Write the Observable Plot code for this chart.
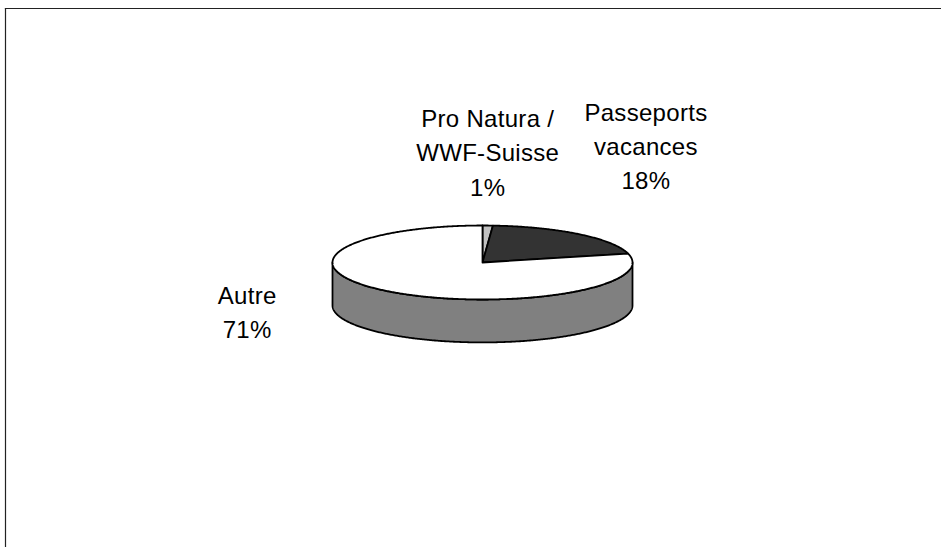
<!DOCTYPE html>
<html>
<head>
<meta charset="utf-8">
<script src="https://cdn.jsdelivr.net/npm/d3@7"></script>
<script src="https://cdn.jsdelivr.net/npm/@observablehq/plot@0.6"></script>
<style>
  html, body { margin: 0; padding: 0; background: #fff; }
  #chart svg text { letter-spacing: 0.3px; }
</style>
</head>
<body>
<div id="chart"></div>
<script>
// ---- data ----
const categories = ["Pro Natura / WWF-Suisse", "Passeports vacances", "Autre"];
const labelLines = ["Pro Natura /\nWWF-Suisse", "Passeports\nvacances", "Autre"];
const values = [1, 18, 71];
const percentLabels = ["1%", "18%", "71%"];

// ---- styles / layout (not data) ----
const sliceColors = ["#c0c0c0", "#333333", "#ffffff"];
const sideColor = "#808080";
const depth = 1.16;                 // pie thickness in y-units of the top ellipse
const labelOffsets = [              // pixel offsets from each slice's rim midpoint
  {dx: 0, dy: -75},
  {dx: 67, dy: -90},
  {dx: -143, dy: 18}
];

// ---- geometry from values ----
const total = d3.sum(values);
const step = Math.PI / 360;
function rim(theta, dz = 0) { return {x: Math.sin(theta), y: -Math.cos(theta) + dz}; }
function arc(a0, a1, dz = 0) {
  const n = Math.max(2, Math.ceil(Math.abs(a1 - a0) / step));
  return d3.range(n + 1).map(i => rim(a0 + (a1 - a0) * i / n, dz));
}
let acc = 0;
const slices = values.map((v, i) => {
  const a0 = acc / total * 2 * Math.PI;
  acc += v;
  const a1 = acc / total * 2 * Math.PI;
  return {i, a0, a1, mid: (a0 + a1) / 2};
});

const marks = [];
// side walls (visible front half: PI/2 .. 3PI/2)
slices.forEach(s => {
  const b0 = Math.max(s.a0, Math.PI / 2), b1 = Math.min(s.a1, 3 * Math.PI / 2);
  if (b1 > b0) {
    const pts = [...arc(b0, b1, 0), ...arc(b1, b0, depth)];
    pts.push(pts[0]);
    marks.push(Plot.line(pts, {x: "x", y: "y", fill: sideColor, stroke: "#000", strokeWidth: 1.8, strokeLinejoin: "round", curve: "linear"}));
  }
});
// top faces
slices.forEach(s => {
  const pts = [{x: 0, y: 0}, ...arc(s.a0, s.a1, 0), {x: 0, y: 0}];
  marks.push(Plot.line(pts, {x: "x", y: "y", fill: sliceColors[s.i], stroke: "#000", strokeWidth: 1.8, strokeLinejoin: "round", curve: "linear"}));
});
// labels
slices.forEach(s => {
  const p = rim(s.mid);
  marks.push(Plot.text([{x: p.x, y: p.y, t: labelLines[s.i] + "\n" + percentLabels[s.i]}], {
    x: "x", y: "y", text: "t",
    dx: labelOffsets[s.i].dx, dy: labelOffsets[s.i].dy,
    textAnchor: "middle", lineAnchor: "middle", lineHeight: 1.42,
    fontSize: 24, fontFamily: "Liberation Sans, Arial, sans-serif", fill: "#000"
  }));
});
// outer frame (left and top edges visible)
marks.push(Plot.frame({anchor: "left", stroke: "#222", strokeWidth: 1.2}));
marks.push(Plot.frame({anchor: "top", stroke: "#222", strokeWidth: 1.2}));

const chart = Plot.plot({
  width: 941,
  height: 547,
  marginTop: 8, marginLeft: 5, marginRight: 0, marginBottom: 0,
  style: {background: "#fff", overflow: "visible"},
  x: {domain: [-1, 1], range: [332, 632], axis: null},
  y: {domain: [-1, 1], range: [225, 299], axis: null},
  marks
});
document.getElementById("chart").appendChild(chart);
</script>
</body>
</html>
